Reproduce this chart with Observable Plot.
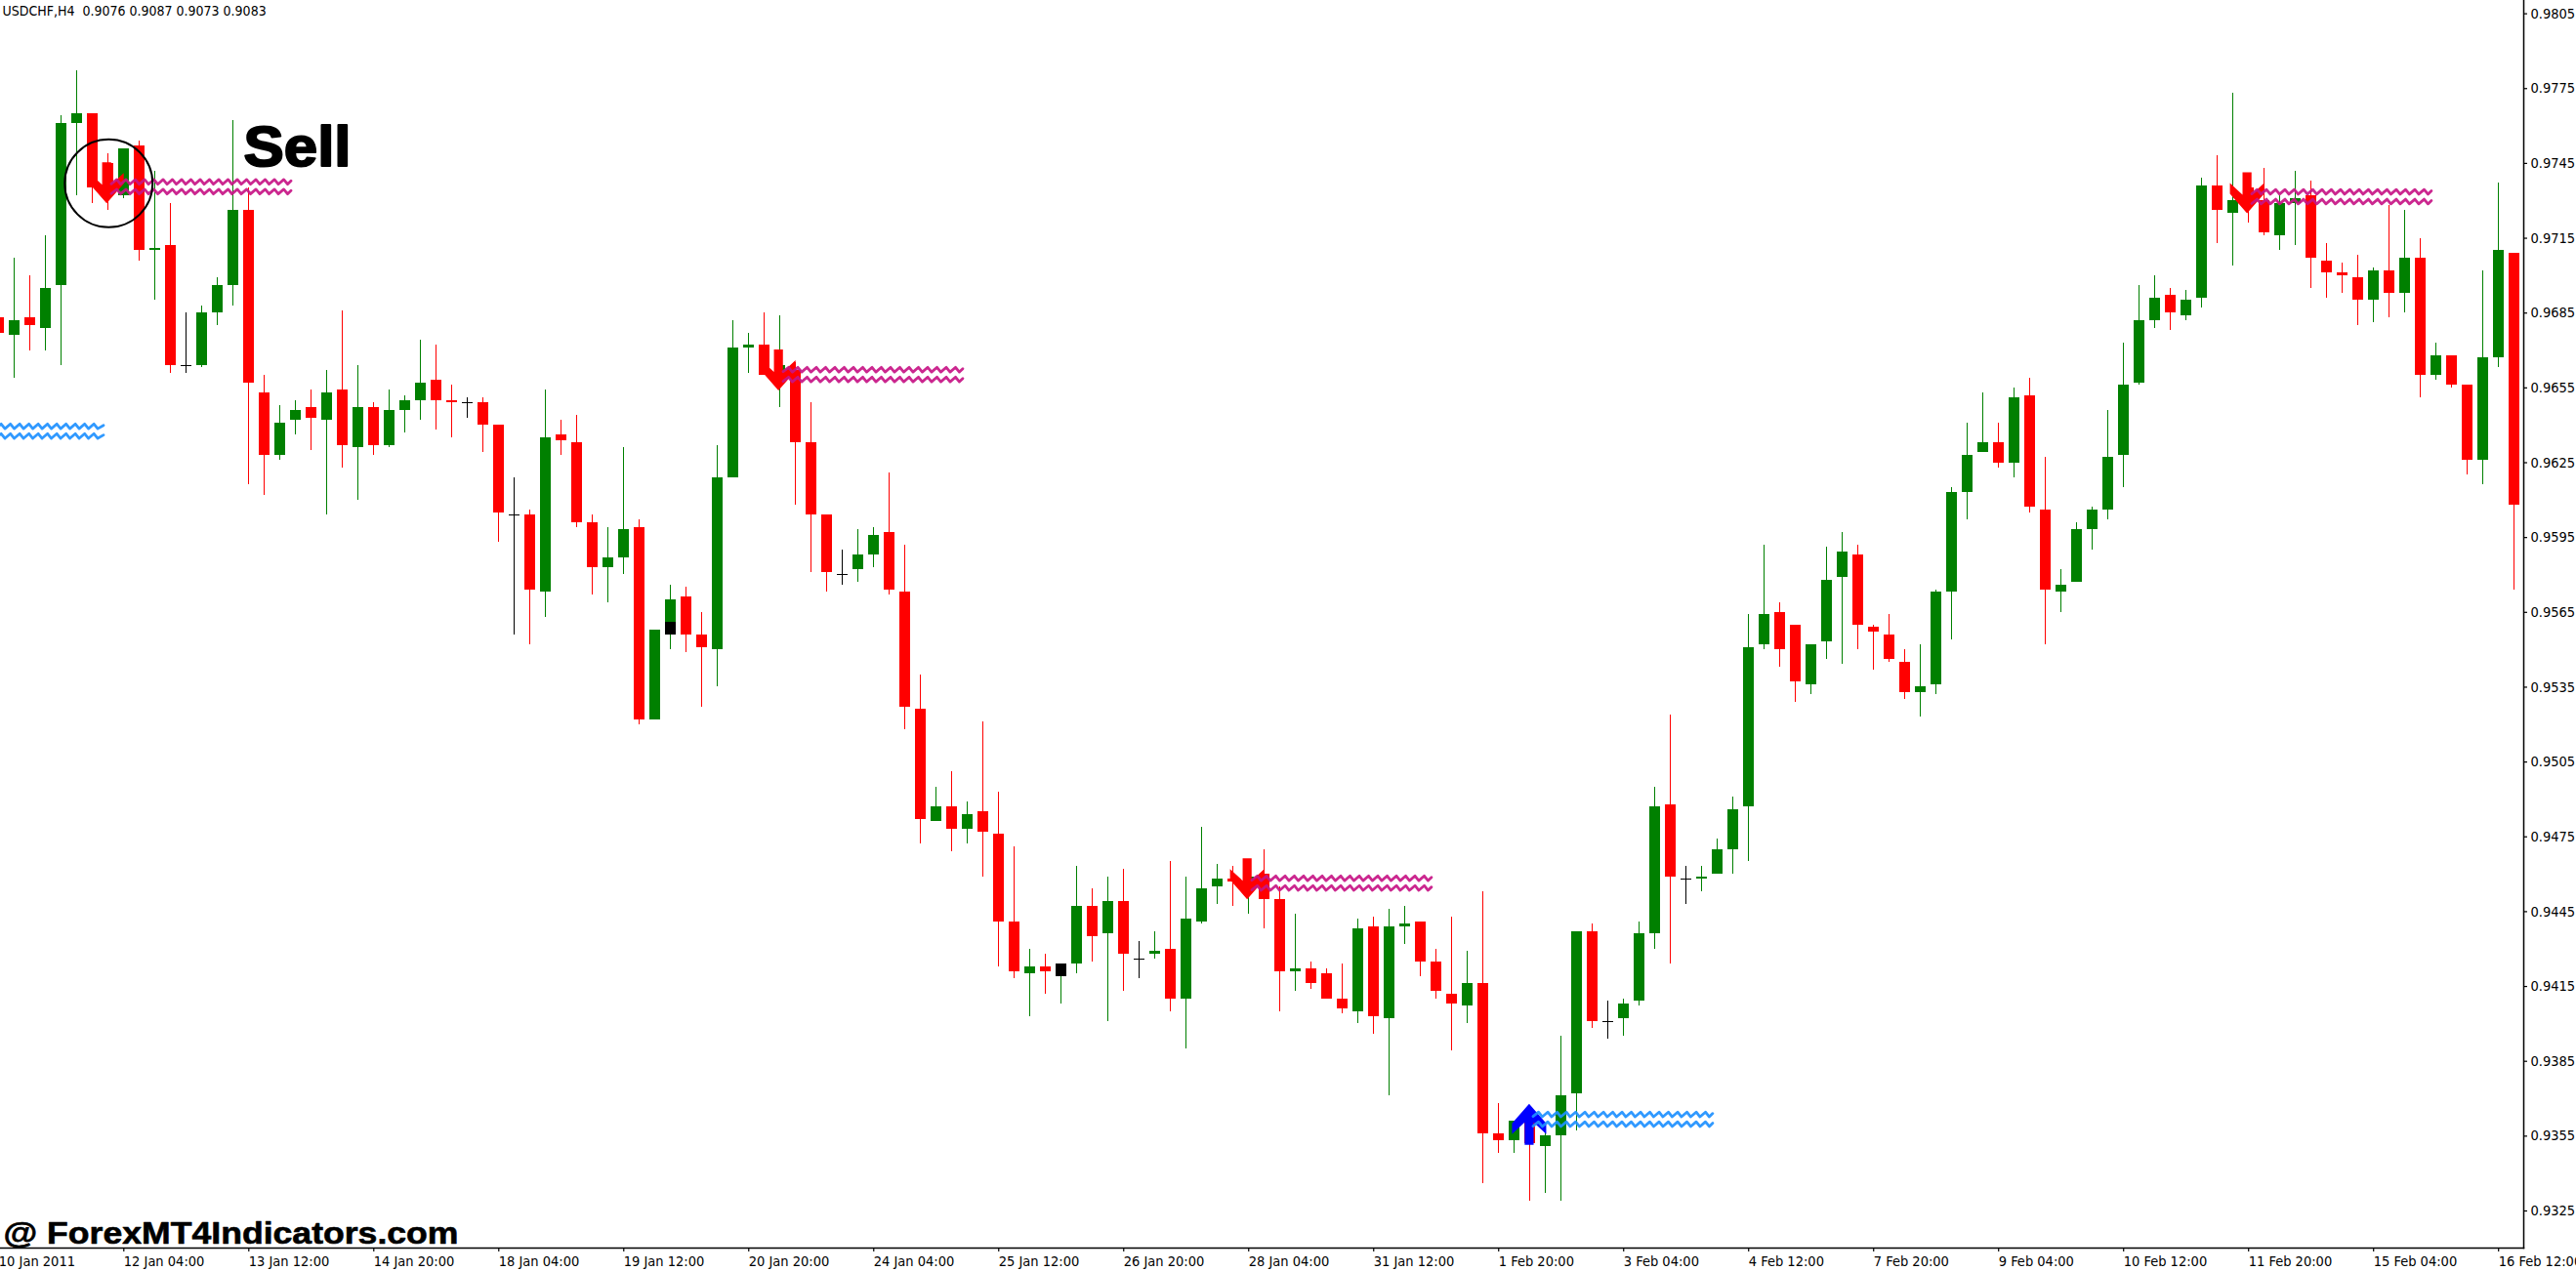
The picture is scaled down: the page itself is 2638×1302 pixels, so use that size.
<!DOCTYPE html>
<html>
<head>
<meta charset="utf-8">
<script src="https://cdn.jsdelivr.net/npm/d3@7"></script>
<script src="https://cdn.jsdelivr.net/npm/@observablehq/plot@0.6"></script>
<style>
html,body{margin:0;padding:0;background:#fff;overflow:hidden}
svg{display:block}
</style>
</head>
<body>
<div id="chart"></div>
<script>
// Prices in 1/10000 units; one row per ten candles, first candle has index -1
const kinds = ("rgrgggrrgr"+"grdgggrrgg"+"rgrgrgggrr"+"drrdrgrrrg"+"grggrrgggr"+"grrrdggrrr"+"grgrrrgrgg"+"rgrdgrgggr"+"grrgrrrgrg"+"grrrgrrgrg"+"ggrdgggrdg"+"ggggrrgggr"+"rrrgggggrg"+"rrgggggggr"+"ggrgrrggrr"+"rrgrgrgrrg"+"gr").split("");
const highs = [
9683,9707,9700,9716,9764,9782,9765,9749,9751,9754,
9742,9729,9685,9688,9699,9762,9735,9660,9648,9650,
9654,9662,9686,9664,9649,9654,9652,9674,9672,9656,
9651,9651,9640,9619,9606,9654,9642,9644,9604,9599,
9631,9602,9558,9576,9575,9565,9632,9682,9677,9685,
9684,9665,9649,9604,9590,9598,9599,9621,9592,9540,
9495,9501,9489,9521,9493,9471,9430,9428,9424,9463,
9454,9459,9462,9433,9437,9465,9459,9479,9464,9463,
9459,9470,9455,9444,9425,9422,9424,9442,9443,9446,
9447,9441,9430,9443,9429,9453,9368,9361,9361,9357,
9395,9437,9440,9409,9410,9441,9495,9524,9463,9463,
9474,9491,9564,9592,9569,9560,9552,9591,9597,9592,
9560,9564,9550,9552,9574,9615,9641,9653,9641,9655,
9659,9627,9582,9601,9607,9646,9673,9696,9700,9695,
9694,9739,9748,9773,9735,9743,9732,9742,9738,9713,
9705,9708,9703,9728,9726,9715,9673,9668,9656,9702,
9737,9709];
const bodyTops = [
9683,9682,9683,9695,9761,9765,9765,9745,9751,9752,
9711,9712,9664,9685,9696,9726,9726,9653,9641,9646,
9647,9653,9654,9647,9647,9646,9650,9657,9658,9650,
9649,9649,9640,9604,9604,9635,9636,9633,9601,9587,
9598,9599,9558,9570,9571,9556,9619,9671,9672,9672,
9664,9662,9633,9604,9580,9588,9596,9597,9573,9526,
9487,9487,9484,9485,9476,9441,9423,9423,9423,9447,
9447,9449,9449,9426,9429,9430,9442,9454,9458,9458,
9459,9460,9450,9422,9422,9420,9410,9438,9439,9439,
9440,9441,9425,9412,9416,9416,9356,9361,9361,9355,
9371,9437,9437,9401,9408,9436,9487,9488,9458,9459,
9470,9486,9551,9564,9565,9560,9552,9578,9589,9588,
9559,9556,9545,9535,9573,9613,9628,9633,9633,9651,
9652,9606,9576,9598,9606,9627,9656,9682,9691,9692,
9690,9736,9736,9730,9735,9730,9729,9731,9732,9706,
9701,9699,9702,9702,9707,9707,9668,9668,9656,9667,
9710,9709];
const bodyBottoms = [
9677,9676,9680,9679,9696,9761,9735,9732,9732,9710,
9710,9664,9664,9664,9685,9696,9657,9628,9628,9642,
9643,9642,9632,9631,9632,9632,9646,9650,9650,9649,
9649,9640,9605,9604,9574,9573,9634,9601,9583,9583,
9587,9522,9522,9558,9556,9551,9550,9619,9671,9660,
9661,9633,9604,9581,9580,9582,9588,9574,9527,9482,
9481,9478,9478,9477,9441,9421,9420,9421,9421,9424,
9435,9436,9428,9426,9428,9410,9410,9441,9455,9457,
9457,9450,9421,9421,9416,9410,9406,9405,9403,9402,
9439,9425,9413,9408,9407,9356,9353,9353,9352,9351,
9355,9372,9401,9401,9402,9409,9436,9459,9458,9458,
9460,9470,9487,9552,9550,9537,9536,9553,9579,9560,
9557,9546,9533,9533,9536,9573,9613,9629,9625,9625,
9607,9574,9573,9577,9598,9606,9628,9657,9682,9685,
9684,9691,9726,9725,9729,9717,9716,9729,9707,9701,
9700,9690,9690,9693,9693,9660,9660,9656,9626,9626,
9667,9608];
const lows = [
9677,9659,9670,9670,9664,9732,9729,9726,9731,9706,
9690,9661,9661,9663,9680,9688,9616,9612,9626,9636,
9630,9604,9623,9610,9628,9631,9637,9642,9638,9635,
9643,9629,9593,9556,9552,9563,9628,9599,9572,9569,
9580,9520,9522,9550,9549,9527,9535,9619,9661,9660,
9647,9608,9581,9573,9576,9577,9583,9572,9518,9472,
9481,9469,9472,9459,9423,9418,9403,9412,9408,9420,
9425,9401,9413,9418,9426,9405,9390,9440,9448,9447,
9444,9438,9405,9413,9414,9410,9404,9400,9396,9371,
9432,9419,9410,9389,9400,9336,9348,9348,9329,9332,
9329,9357,9398,9394,9395,9407,9430,9424,9448,9453,
9460,9460,9465,9550,9543,9529,9532,9546,9544,9550,
9542,9545,9530,9523,9532,9554,9602,9629,9623,9619,
9605,9552,9565,9577,9590,9602,9615,9656,9679,9678,
9682,9687,9713,9704,9721,9716,9710,9712,9695,9691,
9693,9680,9681,9683,9685,9651,9658,9655,9620,9616,
9663,9574];

// Two small black bars that sit on top of candles
const blackIndex = [42, 67];
const blackTop = [9561, 9424];
const blackBottom = [9556, 9419];

// Signal arrows: index and price of the arrow tip
const sellArrowIndex = [5.9, 48.9, 78.9, 142.9];
const sellArrowTip = [9729, 9654, 9450, 9725];
const buyArrowIndex = [96.95];
const buyArrowTip = [9368];

// Wavy level pairs
const waveFrom = [6.2, -1.2, 49.2, 79.2, 97.2, 143.2];
const waveTo = [17.7, 5.7, 60.7, 90.7, 108.7, 154.7];
const waveUpper = [9737.6, 9639.6, 9662.3, 9458.4, 9363.7, 9733.6];
const waveLower = [9733.7, 9635.7, 9658.4, 9454.5, 9359.8, 9729.7];
const waveColor = ["#C71585", "#1E90FF", "#C71585", "#C71585", "#1E90FF", "#C71585"];

// Axis labels
const xTickLabels = ["10 Jan 2011","12 Jan 04:00","13 Jan 12:00","14 Jan 20:00","18 Jan 04:00","19 Jan 12:00","20 Jan 20:00","24 Jan 04:00","25 Jan 12:00","26 Jan 20:00","28 Jan 04:00","31 Jan 12:00","1 Feb 20:00","3 Feb 04:00","4 Feb 12:00","7 Feb 20:00","9 Feb 04:00","10 Feb 12:00","11 Feb 20:00","15 Feb 04:00","16 Feb 12:00"];
const yTicks = [0.9325,0.9355,0.9385,0.9415,0.9445,0.9475,0.9505,0.9535,0.9565,0.9595,0.9625,0.9655,0.9685,0.9715,0.9745,0.9775,0.9805];
const headerText = "USDCHF,H4  0.9076 0.9087 0.9073 0.9083";
const sellLabel = "Sell";
const watermark = "@ ForexMT4Indicators.com";

const UI_FONT = "'DejaVu Sans Condensed','Liberation Sans',sans-serif";
const GREEN = "#008000", RED = "#FF0000", BLACK = "#000000";
const colorOf = {g: GREEN, r: RED, d: BLACK};
const P = v => v / 10000;
const HALF = 0.344;

const candles = kinds.map((k, n) => ({
  i: n - 1, kind: k, color: colorOf[k],
  high: P(highs[n]), low: P(lows[n]), top: P(bodyTops[n]), bottom: P(bodyBottoms[n])
}));
const bodies = candles.filter(d => d.kind !== "d");
const dojis = candles.filter(d => d.kind === "d");
const blacks = blackIndex.map((i, n) => ({i, top: P(blackTop[n]), bottom: P(blackBottom[n])}));
const sellArrows = sellArrowIndex.map((i, n) => ({i, p: P(sellArrowTip[n])}));
const buyArrows = buyArrowIndex.map((i, n) => ({i, p: P(buyArrowTip[n])}));
const waveRows = waveFrom.flatMap((f, n) => [waveUpper[n], waveLower[n]].flatMap((lvl, m) => [
  {id: n + "-" + m, i: f, p: P(lvl), color: waveColor[n]},
  {id: n + "-" + m, i: waveTo[n], p: P(lvl), color: waveColor[n]}
]));
const xTicks = xTickLabels.map((_, k) => -1 + 8 * k);

// Line style: draws a horizontal segment as a small sawtooth wave
function waveCurve(context) {
  let px, py, n = 0;
  return {
    areaStart() {}, areaEnd() {},
    lineStart() { n = 0; },
    lineEnd() {},
    point(x, y) {
      if (n === 0) {
        context.moveTo(x, y + 2);
      } else {
        for (let a = px; a + 9.5 <= x; a += 9.5) {
          context.lineTo(a + 5.6, py - 2.4);
          context.lineTo(a + 9.5, py + 2.4);
        }
        context.lineTo(x, py - 1);
      }
      px = x; py = y; n++;
    }
  };
}

// Symbol shape: an arrow with its tip on the anchor, pointing up
const arrowShape = {
  draw(c, l) {
    const pts = [[17.5,20],[17.5,31],[4.6,19],[4.6,l],[-4.6,l],[-4.6,19],[-17.5,31],[-17.5,20]];
    c.moveTo(0, 0);
    for (const [x, y] of pts) c.lineTo(x, y);
    c.closePath();
  }
};

const chart = Plot.plot({
  width: 2638, height: 1302,
  marginLeft: 0, marginTop: 0, marginRight: 54, marginBottom: 24,
  style: {background: "#fff", fontFamily: UI_FONT, fontSize: "14.5px", color: "#000"},
  x: {type: "linear", domain: [0, 159], range: [14.3, 2558.2]},
  y: {type: "linear", domain: [0.9325, 0.9805], range: [1240, 13.6]},
  color: {type: "identity"},
  marks: [
    Plot.ruleX(candles, {x: "i", y1: "low", y2: "high", stroke: "color", strokeWidth: 1, shapeRendering: "crispEdges"}),
    Plot.rect(bodies, {x1: d => d.i - HALF, x2: d => d.i + HALF, y1: "bottom", y2: "top", fill: "color", shapeRendering: "crispEdges"}),
    Plot.ruleY(dojis, {y: "top", x1: d => d.i - HALF, x2: d => d.i + HALF, stroke: BLACK, strokeWidth: 1, shapeRendering: "crispEdges"}),
    Plot.rect(blacks, {x1: d => d.i - HALF, x2: d => d.i + HALF, y1: "bottom", y2: "top", fill: BLACK, shapeRendering: "crispEdges"}),
    Plot.vector(sellArrows, {x: "i", y: "p", shape: arrowShape, length: 42, anchor: "start", rotate: 180, fill: RED, stroke: "none"}),
    Plot.vector(buyArrows, {x: "i", y: "p", shape: arrowShape, length: 42, anchor: "start", rotate: 0, fill: "#0000FF", stroke: "none"}),
    Plot.line(waveRows, {x: "i", y: "p", z: "id", stroke: "color", curve: waveCurve, strokeWidth: 2.8, strokeLinejoin: "round", strokeOpacity: 0.92}),
    Plot.dot([{i: 6.03, p: 0.9737}], {x: "i", y: "p", r: 45, fill: "none", stroke: BLACK, strokeWidth: 2}),
    Plot.frame({anchor: "right", stroke: BLACK, strokeWidth: 1.5}),
    Plot.frame({anchor: "bottom", stroke: BLACK, strokeWidth: 1.5}),
    Plot.axisX(xTicks, {
      anchor: "bottom", tickSize: 4, tickPadding: 4, textAnchor: "start", stroke: BLACK, fill: BLACK,
      fontSize: 14.5, fontFamily: UI_FONT, label: null, strokeWidth: 1.2,
      tickFormat: d => xTickLabels[(d + 1) / 8]
    }),
    Plot.axisY(yTicks, {
      anchor: "right", tickSize: 3, tickPadding: 4, textAnchor: "start", stroke: BLACK, fill: BLACK,
      fontSize: 14.5, fontFamily: UI_FONT, label: null, strokeWidth: 1.2,
      tickFormat: d3.format(".4f")
    }),
    Plot.text([headerText], {frameAnchor: "top-left", dx: 2, dy: 11, lineAnchor: "middle", textAnchor: "start", fontSize: 14, fontFamily: UI_FONT, fill: BLACK}),
    Plot.text([sellLabel], {frameAnchor: "top-left", dx: 249, dy: 169, lineAnchor: "bottom", textAnchor: "start", fontSize: 57, fontWeight: 900, fontFamily: "'Liberation Sans',sans-serif", fill: BLACK, stroke: BLACK, strokeWidth: 2}),
    Plot.text([watermark], {frameAnchor: "bottom-left", dx: 3, dy: -5, lineAnchor: "bottom", textAnchor: "start", fontSize: 31, fontWeight: 700, fontFamily: "'Liberation Sans',sans-serif", fill: BLACK, stroke: BLACK, strokeWidth: 0.6})
  ]
});
document.getElementById("chart").append(chart);

// Fit the two heavy labels to the widths they have in the reference
const fitted = {[sellLabel]: 110, [watermark]: 466};
for (const t of chart.querySelectorAll("text")) {
  const w = fitted[t.textContent];
  if (w) { t.setAttribute("textLength", w); t.setAttribute("lengthAdjust", "spacingAndGlyphs"); }
}
</script>
</body>
</html>
